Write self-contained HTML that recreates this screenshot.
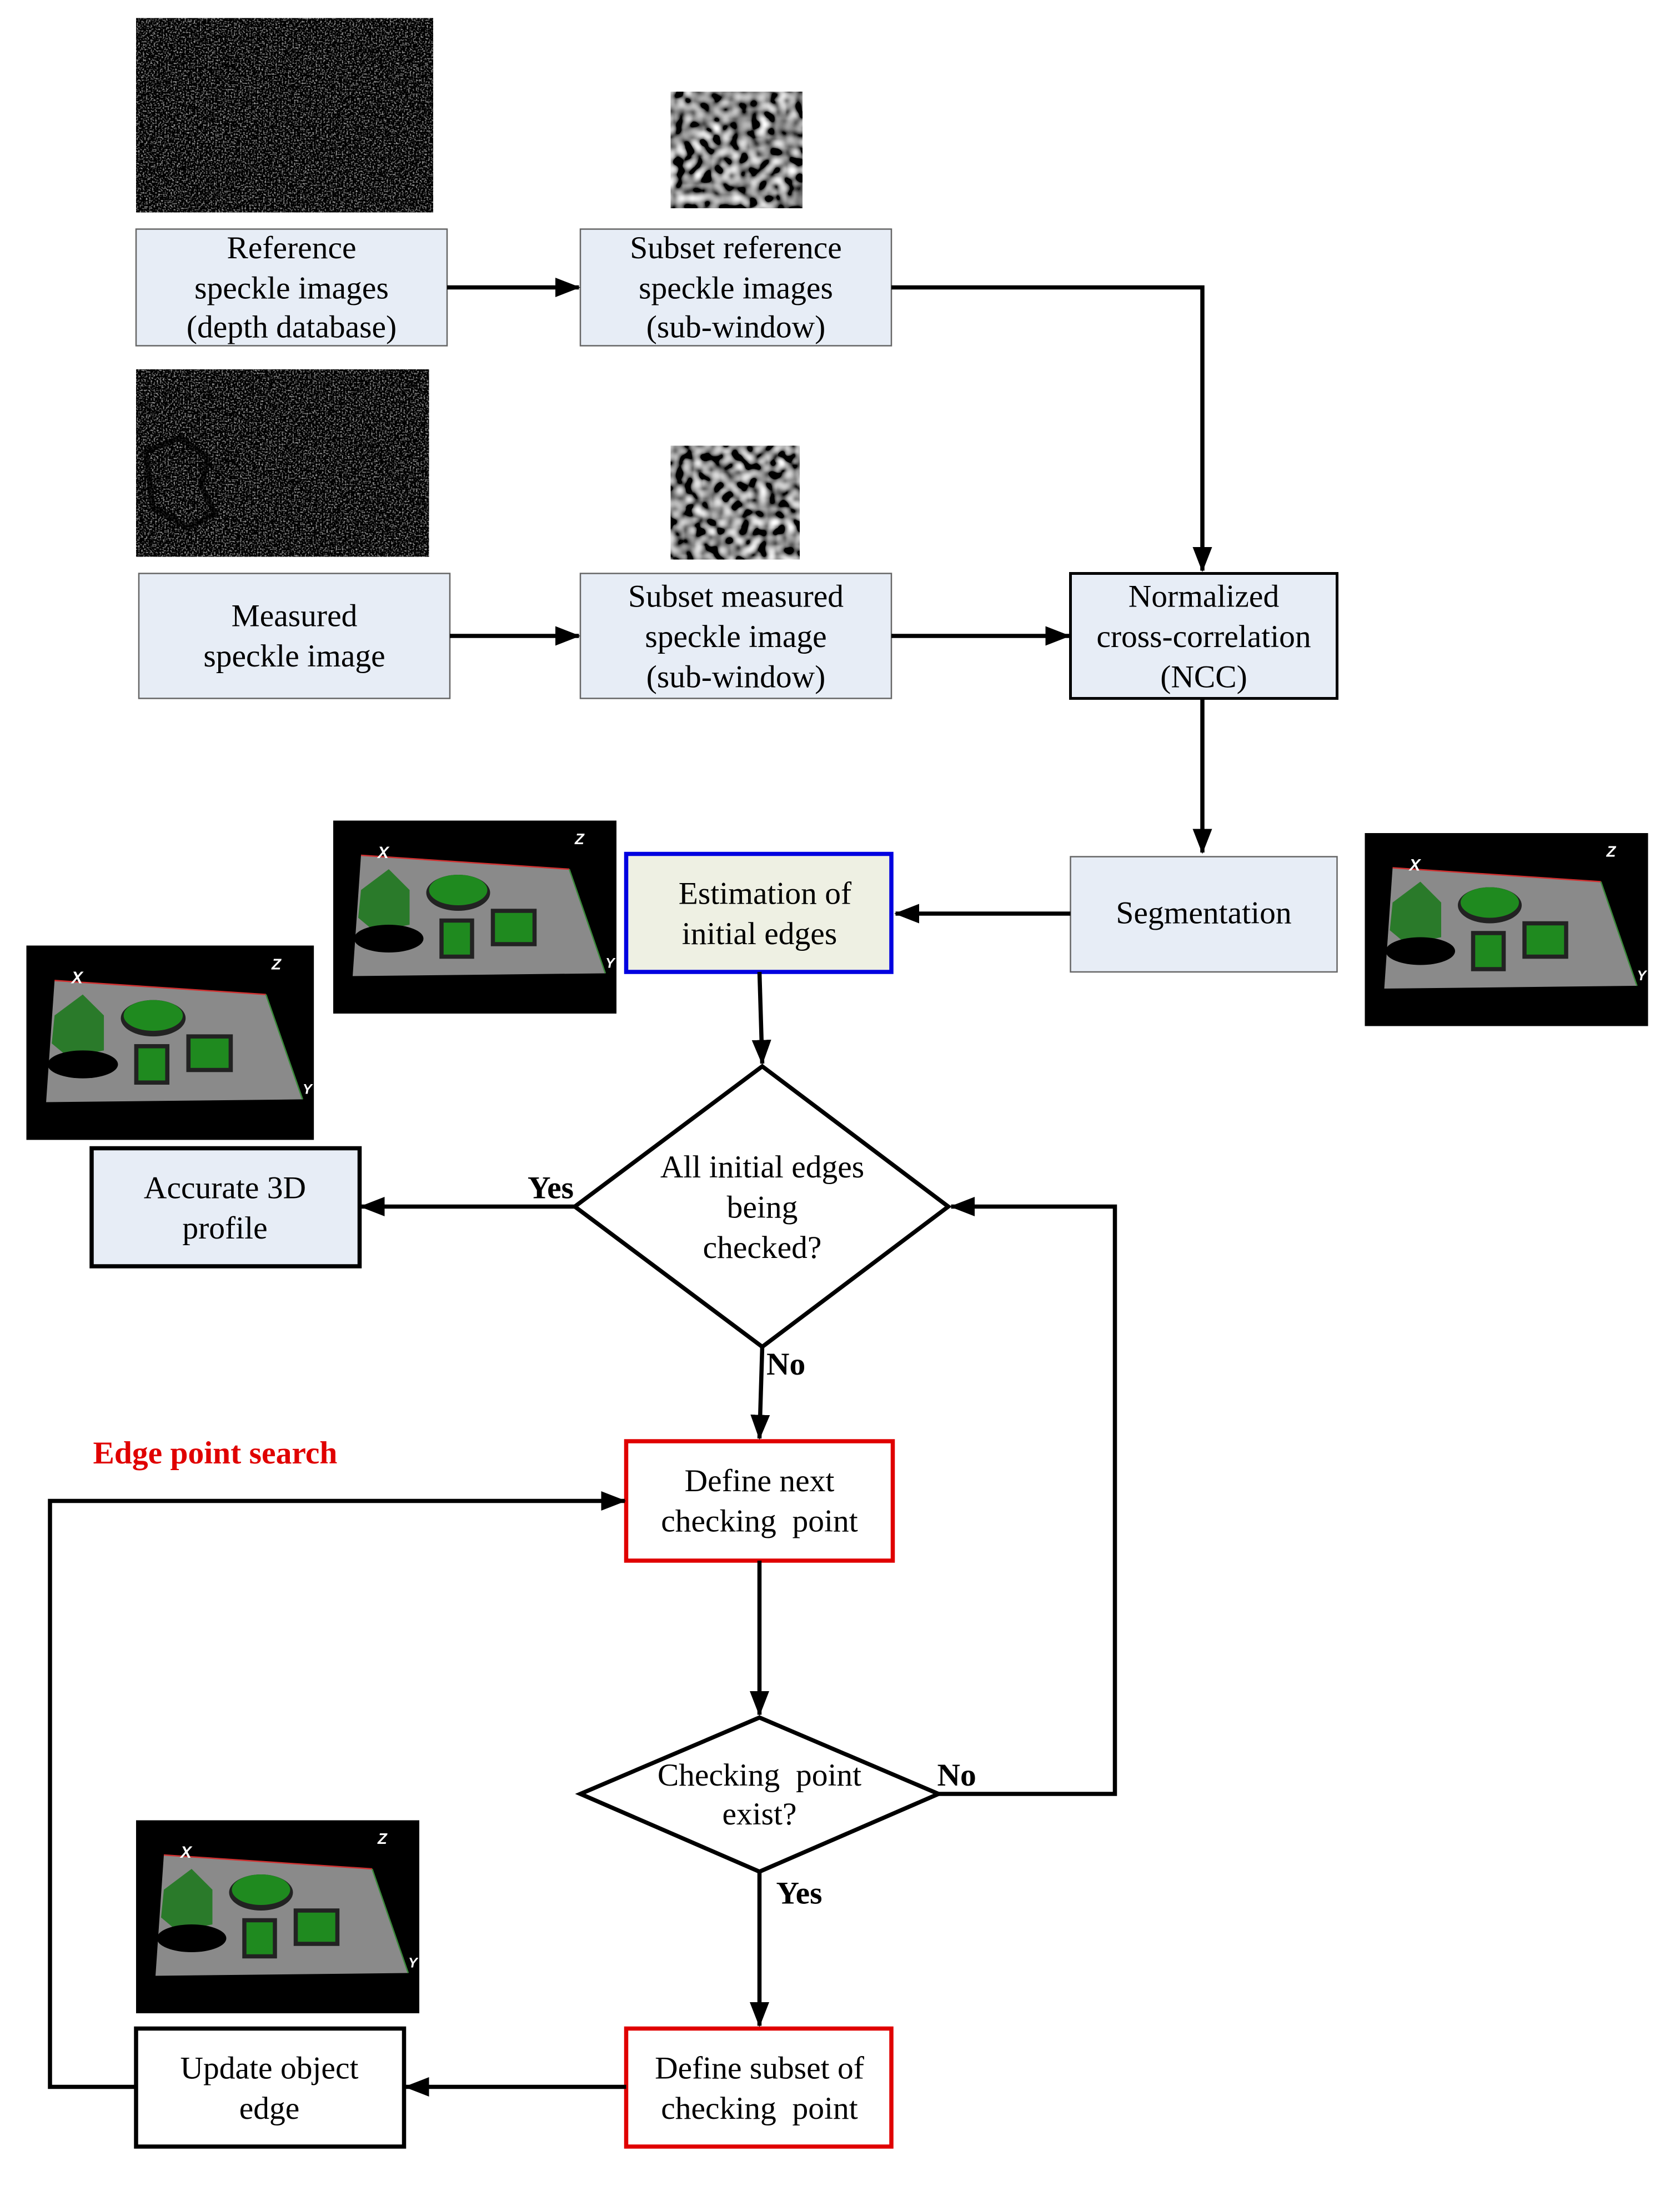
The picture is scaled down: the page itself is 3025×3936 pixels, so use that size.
<!DOCTYPE html>
<html><head><meta charset="utf-8"><style>
html,body{margin:0;padding:0;background:#fff;}
svg{display:block;}
text{font-family:"Liberation Serif","Times New Roman","DejaVu Serif",serif;font-size:23px;fill:#000;}
</style></head><body>
<svg width="3025" height="3936" viewBox="0 0 1210 1574.4" xmlns="http://www.w3.org/2000/svg" font-family="Liberation Serif, Times New Roman, DejaVu Serif, serif">
<defs>
<marker id="ah" markerWidth="18" markerHeight="14" refX="17" refY="7" orient="auto" markerUnits="userSpaceOnUse">
<path d="M0,0 L18,7 L0,14 z" fill="#000"/></marker>
<filter id="noiseDark" x="0" y="0" width="100%" height="100%">
<feTurbulence type="fractalNoise" baseFrequency="0.9" numOctaves="1" seed="3"/>
<feColorMatrix type="matrix" values="0.6 0.6 0.6 0 -0.92  0.6 0.6 0.6 0 -0.92  0.6 0.6 0.6 0 -0.92  0 0 0 0 1"/>
</filter>
<filter id="speck" x="0" y="0" width="100%" height="100%">
<feTurbulence type="fractalNoise" baseFrequency="0.15" numOctaves="1" seed="7"/>
<feColorMatrix type="matrix" values="1.3 1.3 1.3 0 -1.7  1.3 1.3 1.3 0 -1.7  1.3 1.3 1.3 0 -1.7  0 0 0 0 1"/>
</filter>
<filter id="speck2" x="0" y="0" width="100%" height="100%">
<feTurbulence type="fractalNoise" baseFrequency="0.15" numOctaves="1" seed="19"/>
<feColorMatrix type="matrix" values="1.3 1.3 1.3 0 -1.7  1.3 1.3 1.3 0 -1.7  1.3 1.3 1.3 0 -1.7  0 0 0 0 1"/>
</filter>
<g id="scene">
<rect x="0" y="0" width="204" height="139" fill="#000"/>
<polygon points="20,25 170,35 196,110 14,112" fill="#8a8a8a"/>
<path d="M20,25 L170,35" stroke="#d03030" stroke-width="1"/>
<path d="M170,35 L196,110" stroke="#3a8a3a" stroke-width="1"/>
<polygon points="20,50 40,35 55,50 55,75 30,80 18,70" fill="#2a7a2a"/>
<ellipse cx="40" cy="85" rx="25" ry="10" fill="#000"/>
<ellipse cx="90" cy="52" rx="23" ry="13" fill="#222"/>
<ellipse cx="90" cy="50" rx="21" ry="11" fill="#1f8a1f"/>
<rect x="78" y="72" width="22" height="26" fill="#1f8a1f" stroke="#222" stroke-width="3"/>
<rect x="115" y="65" width="30" height="24" fill="#1f8a1f" stroke="#222" stroke-width="3"/>
<text x="32" y="27" style="font-family:'Liberation Sans',sans-serif;font-size:12px;fill:#fff;font-style:italic;font-weight:bold">X</text>
<text x="174" y="17" style="font-family:'Liberation Sans',sans-serif;font-size:11px;fill:#fff;font-style:italic;font-weight:bold">Z</text>
<text x="196" y="106" style="font-family:'Liberation Sans',sans-serif;font-size:10px;fill:#fff;font-style:italic;font-weight:bold">Y</text>
</g>
</defs>

<!-- images -->
<rect x="98" y="13" width="214" height="140" fill="#111"/>
<rect x="98" y="13" width="214" height="140" filter="url(#noiseDark)"/>
<rect x="483" y="66" width="95" height="84" filter="url(#speck)"/>
<rect x="98" y="266" width="211" height="135" fill="#1a1a1a"/>
<rect x="98" y="266" width="211" height="135" filter="url(#noiseDark)"/>
<path d="M105,325 L130,315 L150,330 L145,350 L155,370 L135,380 L110,365 Z" fill="none" stroke="#000" stroke-width="4" opacity="0.7"/>
<rect x="483" y="321" width="93" height="82" filter="url(#speck2)"/>

<use href="#scene" transform="translate(983,600)"/>
<use href="#scene" transform="translate(240,591)"/>
<use href="#scene" transform="translate(19,681) scale(1.015,1.007)"/>
<use href="#scene" transform="translate(98,1311)"/>

<!-- boxes -->
<g stroke="#666" stroke-width="1" fill="#e7edf6">
<rect x="98" y="165" width="224" height="84"/>
<rect x="418" y="165" width="224" height="84"/>
<rect x="100" y="413" width="224" height="90"/>
<rect x="418" y="413" width="224" height="90"/>
<rect x="771" y="617" width="192" height="83"/>
</g>
<rect x="771" y="413" width="192" height="90" fill="#e7edf6" stroke="#000" stroke-width="2"/>
<rect x="451" y="615" width="191" height="85" fill="#eef0e3" stroke="#0000e0" stroke-width="3"/>
<rect x="66" y="827" width="193" height="85" fill="#e7edf6" stroke="#000" stroke-width="3"/>
<rect x="451" y="1038" width="192" height="86" fill="#fff" stroke="#e00000" stroke-width="3"/>
<rect x="451" y="1461" width="191" height="85" fill="#fff" stroke="#e00000" stroke-width="3"/>
<rect x="98" y="1461" width="193" height="85" fill="#fff" stroke="#000" stroke-width="3"/>
<polygon points="549,768 683,869 549,970 414,869" fill="#fff" stroke="#000" stroke-width="3"/>
<polygon points="547,1237 676,1292 547,1348 418,1292" fill="#fff" stroke="#000" stroke-width="3"/>

<!-- connectors -->
<g stroke="#000" stroke-width="3" fill="none" marker-end="url(#ah)">
<path d="M322,207 L417,207"/>
<path d="M642,207 L866,207 L866,411"/>
<path d="M324,458 L417,458"/>
<path d="M642,458 L770,458"/>
<path d="M866,503 L866,614"/>
<path d="M771,658 L645,658"/>
<path d="M547,700 L549,766"/>
<path d="M414,869 L260,869"/>
<path d="M549,970 L547,1036"/>
<path d="M98,1503 L36,1503 L36,1081 L450,1081"/>
<path d="M547,1124 L547,1235"/>
<path d="M676,1292 L803,1292 L803,869 L685,869"/>
<path d="M547,1348 L547,1459"/>
<path d="M451,1503 L292,1503"/>
</g>

<!-- text -->
<g text-anchor="middle">
<text x="210" y="186">Reference</text><text x="210" y="215">speckle images</text><text x="210" y="243">(depth database)</text>
<text x="530" y="186">Subset reference</text><text x="530" y="215">speckle images</text><text x="530" y="243">(sub-window)</text>
<text x="212" y="451">Measured</text><text x="212" y="480">speckle image</text>
<text x="530" y="437">Subset measured</text><text x="530" y="466">speckle image</text><text x="530" y="495">(sub-window)</text>
<text x="867" y="437">Normalized</text><text x="867" y="466">cross-correlation</text><text x="867" y="495">(NCC)</text>
<text x="867" y="665">Segmentation</text>
<text x="551" y="651">Estimation of</text><text x="547" y="680">initial edges</text>
<text x="549" y="848">All initial edges</text><text x="549" y="877">being</text><text x="549" y="906">checked?</text>
<text x="162" y="863">Accurate 3D</text><text x="162" y="892">profile</text>
<text x="547" y="1074">Define next</text><text x="547" y="1103" xml:space="preserve">checking  point</text>
<text x="547" y="1286" xml:space="preserve">Checking  point</text><text x="547" y="1314">exist?</text>
<text x="547" y="1497">Define subset of</text><text x="547" y="1526" xml:space="preserve">checking  point</text>
<text x="194" y="1497">Update object</text><text x="194" y="1526">edge</text>
</g>
<text x="380" y="863" font-weight="bold">Yes</text>
<text x="552" y="990" font-weight="bold">No</text>
<text x="675" y="1286" font-weight="bold">No</text>
<text x="559" y="1371" font-weight="bold">Yes</text>
<text x="67" y="1054" font-weight="bold" style="fill:#e00000">Edge point search</text>
</svg>
</body></html>
